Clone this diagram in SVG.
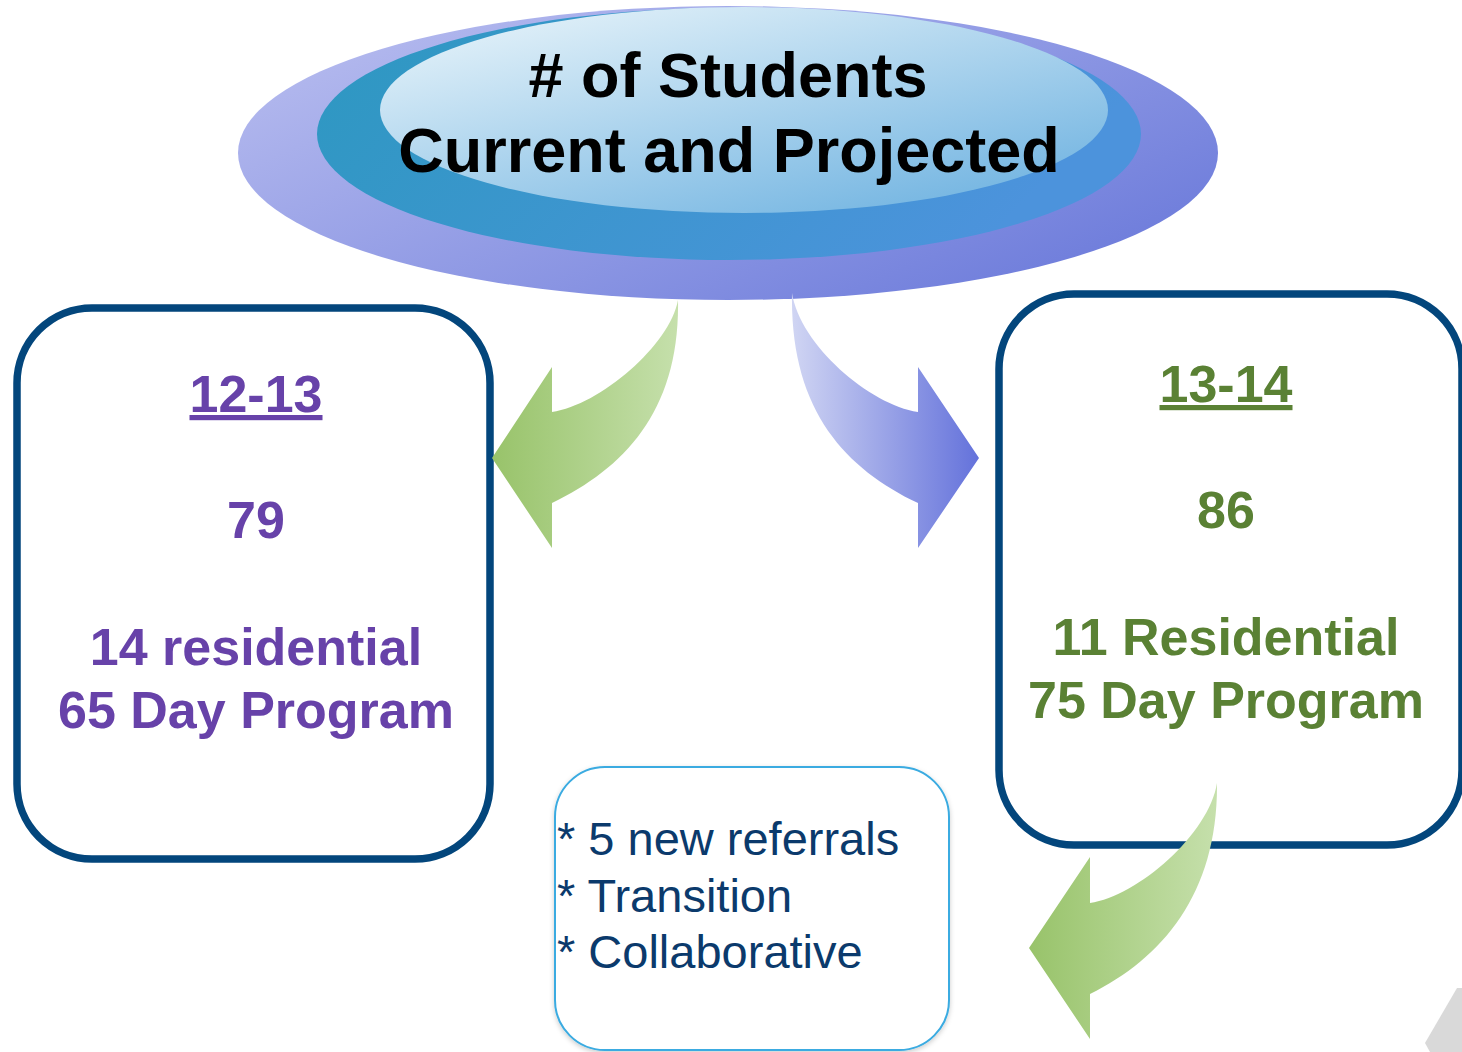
<svg xmlns="http://www.w3.org/2000/svg" width="1462" height="1052" viewBox="0 0 1462 1052">
<defs>
<linearGradient id="gOuter" x1="0" y1="0.15" x2="1" y2="0.85">
<stop offset="0" stop-color="#B7BCEF"/>
<stop offset="1" stop-color="#6A79DA"/>
</linearGradient>
<linearGradient id="gMid" x1="0" y1="0" x2="1" y2="0.3">
<stop offset="0" stop-color="#2C98C0"/>
<stop offset="1" stop-color="#4C93DC"/>
</linearGradient>
<linearGradient id="gInner" x1="0.1" y1="0" x2="0.9" y2="1">
<stop offset="0" stop-color="#E8F4FA"/>
<stop offset="1" stop-color="#6CB1E0"/>
</linearGradient>
<linearGradient id="gGreenL" gradientUnits="userSpaceOnUse" x1="492" y1="0" x2="680" y2="0">
<stop offset="0" stop-color="#98C36A"/>
<stop offset="1" stop-color="#C6E0AC"/>
</linearGradient>
<linearGradient id="gBlue" gradientUnits="userSpaceOnUse" x1="792" y1="0" x2="979" y2="0">
<stop offset="0" stop-color="#D0D5F3"/>
<stop offset="1" stop-color="#6472DB"/>
</linearGradient>
<linearGradient id="gGreenB" gradientUnits="userSpaceOnUse" x1="1029" y1="0" x2="1218" y2="0">
<stop offset="0" stop-color="#98C36A"/>
<stop offset="1" stop-color="#C6E0AC"/>
</linearGradient>
<filter id="shadow" x="-10%" y="-10%" width="120%" height="120%">
<feDropShadow dx="0" dy="2" stdDeviation="2.5" flood-color="#000" flood-opacity="0.2"/>
</filter>
</defs>
<style>
.box{fill:#fff;stroke:#03467C;stroke-width:7.5}
.title{font-family:"Liberation Sans",Arial,sans-serif;font-weight:bold;font-size:63px;fill:#000;text-anchor:middle}
.big{font-family:"Liberation Sans",Arial,sans-serif;font-weight:bold;font-size:52px;text-anchor:middle}
.purple{fill:#6742A9}
.green{fill:#5A8134}
.note{font-family:"Liberation Sans",Arial,sans-serif;font-size:47px;fill:#0B3A6C}
.u{text-decoration:underline}
</style>
<rect width="1462" height="1052" fill="#fff"/>

<g id="node-title">
<ellipse cx="728" cy="153" rx="490" ry="147" fill="url(#gOuter)"/>
<ellipse cx="729" cy="134" rx="412" ry="126" fill="url(#gMid)"/>
<ellipse cx="744" cy="110" rx="364" ry="103" fill="url(#gInner)"/>
<text class="title" x="728" y="97"># of Students</text>
<text class="title" x="729" y="172">Current and Projected</text>
</g>

<g id="node-1213">
<rect class="box" x="17" y="308" width="473" height="551" rx="75"/>
<text class="big purple u" x="256" y="412">12-13</text>
<text class="big purple" x="256" y="538">79</text>
<text class="big purple" x="256" y="665">14 residential</text>
<text class="big purple" x="256" y="728">65 Day Program</text>
</g>

<g id="node-1314">
<rect class="box" x="999" y="294" width="463" height="551" rx="75"/>
<text class="big green u" x="1226" y="402">13-14</text>
<text class="big green" x="1226" y="528">86</text>
<text class="big green" x="1226" y="655">11 Residential</text>
<text class="big green" x="1226" y="718">75 Day Program</text>
</g>

<g id="node-notes">
<rect x="555" y="767" width="394" height="283" rx="50" fill="#fff" stroke="#3AABE1" stroke-width="2" filter="url(#shadow)"/>
<text class="note" x="557" y="855">* 5 new referrals</text>
<text class="note" x="557" y="912">* Transition</text>
<text class="note" x="557" y="968">* Collaborative</text>
</g>

<g id="connectors">
<path d="M492,458 L552,367 L552,412 C600,405 670,345 678,300 C680,410 625,468 552,503 L552,548 Z" fill="url(#gGreenL)"/>
<path d="M979,458 L918,367 L918,412 C870,405 800,345 792,293 C790,410 845,468 918,503 L918,548 Z" fill="url(#gBlue)"/>
<path d="M1029,948 L1090,857 L1090,903 C1138,896 1209,834 1217,783 C1218,893 1163,958 1090,994 L1090,1039 Z" fill="url(#gGreenB)"/>
</g>

<g id="corner-shape">
<polygon points="1425,1043 1457,988 1462,988 1462,1052 1430,1052" fill="#D9D9D9"/>
</g>
</svg>
